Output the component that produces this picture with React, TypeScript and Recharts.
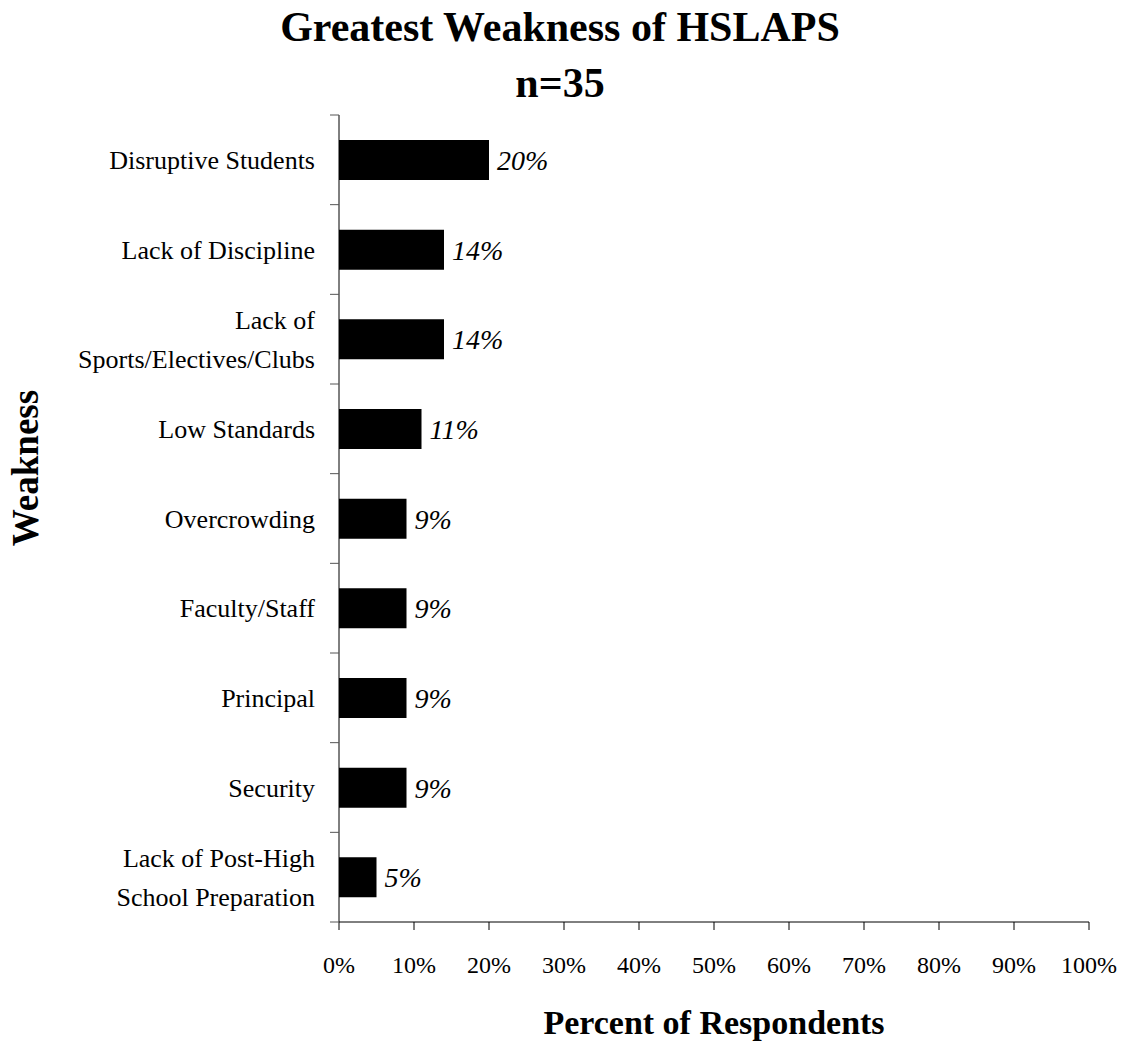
import { BarChart, Bar, XAxis, YAxis, LabelList, Label } from "recharts";

const categories = [
  "Disruptive Students",
  "Lack of Discipline",
  "Lack of\nSports/Electives/Clubs",
  "Low Standards",
  "Overcrowding",
  "Faculty/Staff",
  "Principal",
  "Security",
  "Lack of Post-High\nSchool Preparation",
];
const percents = [20, 14, 14, 11, 9, 9, 9, 9, 5];
const xTicks = [0, 10, 20, 30, 40, 50, 60, 70, 80, 90, 100];

const data = categories.map((name, i) => ({ name, value: percents[i] }));

const FONT = '"Liberation Serif", "Times New Roman", Times, serif';
const W = 1124;
const H = 1044;
const MARGIN = { top: 115, right: 35, bottom: 62, left: 0 };
const X_AXIS_H = 60;
const PLOT_H = H - MARGIN.top - MARGIN.bottom - X_AXIS_H;
const BAND = PLOT_H / categories.length;

function CategoryTick(props: any) {
  const { x, y, payload, index } = props;
  const lines = String(payload.value).split("\n");
  const lineH = 39;
  const startY = y - ((lines.length - 1) * lineH) / 2;
  return (
    <g>
      <line x1={x - 9} x2={x} y1={y - BAND / 2} y2={y - BAND / 2} stroke="#555" />
      {index === categories.length - 1 && (
        <line x1={x - 9} x2={x} y1={y + BAND / 2} y2={y + BAND / 2} stroke="#555" />
      )}
      <text
        x={x - 24}
        y={startY}
        textAnchor="end"
        dominantBaseline="central"
        fontFamily={FONT}
        fontSize={26}
        fill="#000"
      >
        {lines.map((l, i) => (
          <tspan key={i} x={x - 24} y={startY + i * lineH}>
            {l}
          </tspan>
        ))}
      </text>
    </g>
  );
}

export default function App() {
  return (
    <div style={{ position: "absolute", left: 0, top: 0, width: W, height: H, background: "#fff" }}>
      <svg
        width={W}
        height={110}
        style={{ position: "absolute", left: 0, top: 0 }}
      >
        <text x={560} y={41} textAnchor="middle" fontFamily={FONT} fontWeight="bold" fontSize={42} fill="#000">
          Greatest Weakness of HSLAPS
        </text>
        <text x={560} y={97} textAnchor="middle" fontFamily={FONT} fontWeight="bold" fontSize={42} fill="#000">
          n=35
        </text>
      </svg>
      <BarChart
        width={W}
        height={H}
        data={data}
        layout="vertical"
        margin={MARGIN}
        barCategoryGap="27%"
      >
        <XAxis
          type="number"
          domain={[0, 100]}
          ticks={xTicks}
          interval={0}
          tickFormatter={(v) => `${v}%`}
          height={X_AXIS_H}
          stroke="#000"
          tickSize={8}
          tickMargin={26}
          tick={{ fontFamily: FONT, fontSize: 24, fill: "#000" }}
        >
          <Label
            content={(p: any) => {
              const vb = p.viewBox;
              return (
                <text
                  x={vb.x + vb.width / 2}
                  y={1022}
                  textAnchor="middle"
                  dominantBaseline="central"
                  fontFamily={FONT}
                  fontWeight="bold"
                  fontSize={34}
                  fill="#000"
                >
                  Percent of Respondents
                </text>
              );
            }}
          />
        </XAxis>
        <YAxis
          type="category"
          dataKey="name"
          width={339}
          stroke="#000"
          tickLine={false}
          tickSize={0}
          tickMargin={0}
          interval={0}
          tick={<CategoryTick />}
        >
          <Label
            content={() => (
              <text
                x={25}
                y={468}
                transform="rotate(-90 25 468)"
                textAnchor="middle"
                dominantBaseline="central"
                fontFamily={FONT}
                fontWeight="bold"
                fontSize={37}
                fill="#000"
              >
                Weakness
              </text>
            )}
          />
        </YAxis>
        <Bar dataKey="value" fill="#000" barSize={40} isAnimationActive={false}>
          <LabelList
            dataKey="value"
            position="right"
            offset={8}
            formatter={(v: any) => `${v}%`}
            style={{ fontFamily: FONT, fontStyle: "italic", fontSize: 28, fill: "#000" }}
          />
        </Bar>
      </BarChart>
    </div>
  );
}
